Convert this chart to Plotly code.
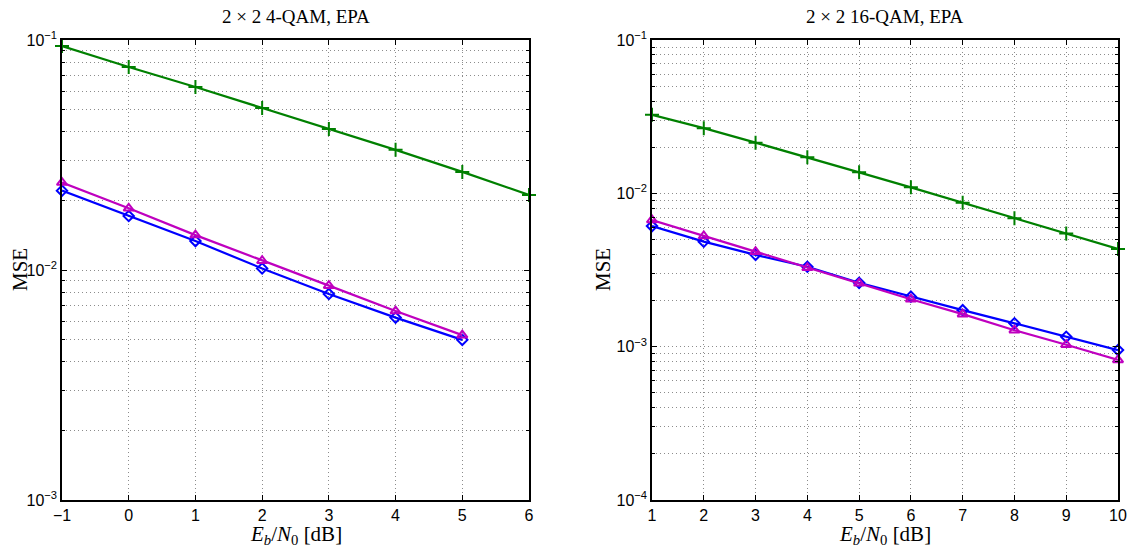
import plotly.graph_objects as go
import numpy as np

# Left panel: 2x2 4-QAM
x_left = [-1, 0, 1, 2, 3, 4, 5, 6]
green_left = [0.0941, 0.0763, 0.0625, 0.0506, 0.0410, 0.0333, 0.0267, 0.0212]
x_left_short = [-1, 0, 1, 2, 3, 4, 5]
magenta_left = [0.0240, 0.01854, 0.01418, 0.01097, 0.00855, 0.00663, 0.00521]
blue_left = [0.02213, 0.01717, 0.01336, 0.01016, 0.00787, 0.00621, 0.00497]

# Right panel: 2x2 16-QAM
x_right = [1, 2, 3, 4, 5, 6, 7, 8, 9, 10]
green_right = [0.0325, 0.0266, 0.0214, 0.0172, 0.0137, 0.01094, 0.00869, 0.00688, 0.00548, 0.00434]
magenta_right = [0.00670, 0.00527, 0.00416, 0.00327, 0.00259, 0.00204, 0.00163, 0.00128, 0.00103, 0.00082]
blue_right = [0.00612, 0.00484, 0.00397, 0.00332, 0.00261, 0.00212, 0.00173, 0.00142, 0.00116, 0.00095]

titles = ["2 × 2 4-QAM, EPA", "2 × 2 16-QAM, EPA"]
left_xticks = [-1, 0, 1, 2, 3, 4, 5, 6]
right_xticks = [1, 2, 3, 4, 5, 6, 7, 8, 9, 10]
left_yticks = [1e-3, 1e-2, 1e-1]
right_yticks = [1e-4, 1e-3, 1e-2, 1e-1]

GREEN = "#008000"
BLUE = "#0000FF"
MAGENTA = "#BF00BF"

# page body margin is removed via post_script, so figure sits at (0, 0)
OFF = 0
W, H = 1128, 554

def fx(px):
    return (px - OFF) / W

def fy(py):
    return 1 - (py - OFF) / H

fig = go.Figure()

def add_series(x, y, color, symbol, xa, ya, msize=9):
    fig.add_trace(go.Scatter(
        x=x, y=y, mode="lines+markers", xaxis=xa, yaxis=ya,
        line=dict(color=color, width=2.2),
        marker=dict(symbol=symbol, size=msize, color=color,
                    line=dict(color=color, width=2)),
        showlegend=False, cliponaxis=False))

add_series(x_left, green_left, GREEN, "cross-thin-open", "x", "y", 10)
add_series(x_left_short, blue_left, BLUE, "diamond-open", "x", "y", 8)
add_series(x_left_short, magenta_left, MAGENTA, "triangle-up-open", "x", "y", 9)

add_series(x_right, green_right, GREEN, "cross-thin-open", "x2", "y2", 10)
add_series(x_right, blue_right, BLUE, "diamond-open", "x2", "y2", 8)
add_series(x_right, magenta_right, MAGENTA, "triangle-up-open", "x2", "y2", 9)

def minor_vals(lo, hi):
    vals = []
    for e in range(lo, hi):
        for m in range(2, 10):
            vals.append(m * 10.0 ** e)
    return vals

def sup(v):
    e = int(round(np.log10(v)))
    return "10<sup>−%d</sup>" % (-e)

GRID = "#8c8c8c"
DASH = "1px,3px"
tickfont = dict(family="Liberation Sans, Arial, sans-serif", size=16, color="black")
common_x = dict(showline=True, linecolor="black", linewidth=1.5, mirror="allticks",
                ticks="inside", ticklen=5, tickcolor="black", automargin=False,
                ticklabeloverflow="allow",
                showgrid=True, gridcolor=GRID, griddash=DASH, gridwidth=1,
                zeroline=False, tickfont=tickfont)
common_y = dict(type="log", showline=True, linecolor="black", linewidth=1.5, mirror="allticks",
                ticks="inside", ticklen=5, tickcolor="black", automargin=False,
                ticklabeloverflow="allow",
                showgrid=True, gridcolor=GRID, griddash=DASH, gridwidth=1,
                zeroline=False, tickfont=tickfont)

dl = [fx(62), fx(529)]
dr = [fx(652), fx(1118)]
dy = [fy(500), fy(40)]

minor_common = dict(ticks="inside", ticklen=3, tickcolor="black", showgrid=True,
                    gridcolor=GRID, griddash=DASH, gridwidth=1)

fig.update_layout(
    width=W, height=H,
    margin=dict(l=0, r=0, t=0, b=0),
    paper_bgcolor="white", plot_bgcolor="white",
    xaxis=dict(domain=dl, range=[-1, 6], tickvals=left_xticks,
               ticktext=[("−1" if v < 0 else str(v)) for v in left_xticks], anchor="y", **common_x),
    yaxis=dict(domain=dy, range=[-3, -1], tickvals=left_yticks,
               ticktext=[sup(v) for v in left_yticks],
               minor=dict(tickvals=minor_vals(-3, -1), **minor_common),
               anchor="x", **common_y),
    xaxis2=dict(domain=dr, range=[1, 10], tickvals=right_xticks,
                ticktext=[str(v) for v in right_xticks], anchor="y2", **common_x),
    yaxis2=dict(domain=dy, range=[-4, -1], tickvals=right_yticks,
                ticktext=[sup(v) for v in right_yticks],
                minor=dict(tickvals=minor_vals(-4, -1), **minor_common),
                anchor="x2", **common_y),
)

serif = "Liberation Serif, DejaVu Serif, serif"
xlabel = "<i>E</i><sub><i>b</i></sub>/<i>N</i><sub>0</sub> [dB]"
anns = []
for dom, t, mse_px in zip([dl, dr], titles, [20, 603]):
    cx = (dom[0] + dom[1]) / 2
    anns.append(dict(text=t, x=cx, y=fy(17), xref="paper", yref="paper",
                     xanchor="center", yanchor="middle", showarrow=False,
                     font=dict(family=serif, size=19, color="black")))
    anns.append(dict(text=xlabel, x=cx, y=fy(535), xref="paper", yref="paper",
                     xanchor="center", yanchor="middle", showarrow=False,
                     font=dict(family=serif, size=21, color="black")))
    anns.append(dict(text="MSE", x=fx(mse_px), y=(dy[0] + dy[1]) / 2,
                     xref="paper", yref="paper", xanchor="center", yanchor="middle",
                     textangle=-90, showarrow=False,
                     font=dict(family=serif, size=21, color="black")))
fig.update_layout(annotations=anns)

fig.write_html("out.html", config={"displayModeBar": False},
               post_script="document.body.style.margin='0';document.body.style.overflow='hidden';")
